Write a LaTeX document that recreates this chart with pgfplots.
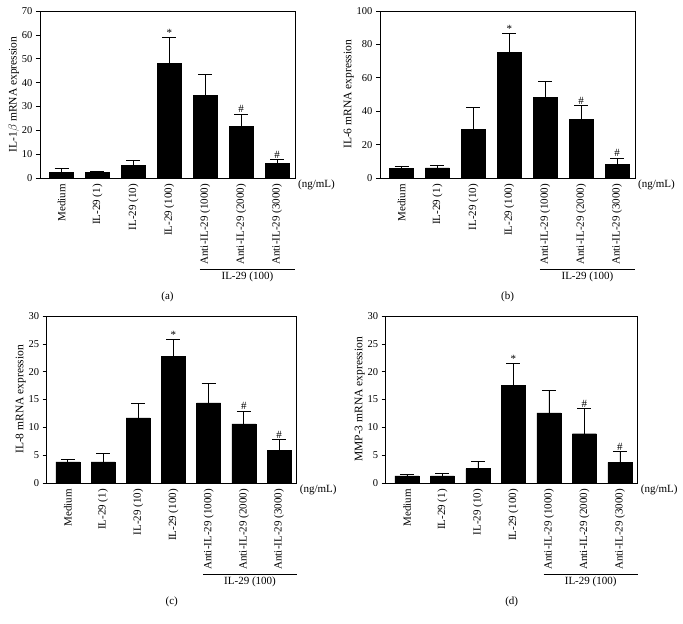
\documentclass[border=0pt]{standalone}
\usepackage{fontspec}
\setmainfont{Liberation Serif}
\usepackage{pgfplots}
\pgfplotsset{compat=1.18}
\newcommand{\lbl}{\fontsize{11bp}{13bp}\selectfont}
\newcommand{\tlbl}{\fontsize{10.5bp}{12bp}\selectfont}
\newcommand{\ylbl}{\fontsize{11.5bp}{13bp}\selectfont}
\pgfplotsset{
  panel/.style={
    scale only axis, width=255bp, height=167bp,
    axis line style={line width=0.7bp},
    ybar, bar width=24bp, xmin=-0.6, xmax=6.5, ymin=0,
    xtick={0,...,6},
    xticklabels={Medium,{IL-29 (1)},{IL-29 (10)},{IL-29 (100)},{Anti-IL-29 (1000)},{Anti-IL-29 (2000)},{Anti-IL-29 (3000)}},
    x tick label style={rotate=90, anchor=east, font=\lbl, inner sep=2bp},
    major x tick style={draw=none},
    ytick pos=left, tick align=outside, major tick length=4bp,
    y tick style={line width=0.6bp, black},
    y tick label style={font=\tlbl},
    ylabel style={font=\ylbl}, ylabel shift=-4bp,
    /pgf/number format/assume math mode=true,
    clip=false,
  },
  barsty/.style={fill=black, draw=black, error bars/.cd, y dir=plus, y explicit,
    error bar style={line width=0.8bp, black},
    error mark options={rotate=90, line width=0.8bp, black, mark size=7bp}},
}
\newcommand{\extras}[1]{%
  \node[font=\lbl, anchor=north west, inner sep=0pt] at ([xshift=3bp,yshift=-2bp]rel axis cs:1,0) {(ng/mL)};
  \draw[line width=0.7bp] ([yshift=-91bp]axis cs:3.85,0) -- ([yshift=-91bp]axis cs:6.5,0)
     node[midway, below, font=\lbl, inner sep=2.5bp] {IL-29 (100)};
  \node[font=\lbl, anchor=center] at ([yshift=-119bp]rel axis cs:0.5,0) {#1};
}
\begin{document}
\begin{tikzpicture}
\useasboundingbox (0,0) rectangle (683bp,624bp);
% (a)
\begin{axis}[panel, at={(40bp,446bp)}, anchor=south west,
  ymax=70, ytick={0,10,...,70}, ylabel={IL-1$\beta$ mRNA expression}]
\addplot[barsty] table[x=x,y=y,y error=e] {
x y e
0 2.5 1.5
1 2.4 0.5
2 5.3 1.9
3 48.0 10.8
4 34.6 8.9
5 21.7 5.1
6 6.1 1.7
};
\node[font=\lbl, anchor=south, inner sep=1bp] at (axis cs:3,58.8) {*};
\node[font=\lbl, anchor=south, inner sep=1bp] at (axis cs:5,26.8) {\#};
\node[font=\lbl, anchor=south, inner sep=1bp] at (axis cs:6,7.8) {\#};
\extras{(a)}
\end{axis}
% (b)
\begin{axis}[panel, at={(380bp,446bp)}, anchor=south west,
  ymax=100, ytick={0,20,...,100}, ylabel={IL-6 mRNA expression}]
\addplot[barsty] table[x=x,y=y,y error=e] {
x y e
0 5.6 1.4
1 6.0 1.8
2 29.2 12.9
3 75.1 11.2
4 48.1 9.8
5 35.2 8.1
6 8.0 3.9
};
\node[font=\lbl, anchor=south, inner sep=1bp] at (axis cs:3,86.3) {*};
\node[font=\lbl, anchor=south, inner sep=1bp] at (axis cs:5,43.3) {\#};
\node[font=\lbl, anchor=south, inner sep=1bp] at (axis cs:6,11.9) {\#};
\extras{(b)}
\end{axis}
% (c)
\begin{axis}[panel, at={(46.7bp,141bp)}, anchor=south west, width=250bp,
  ymax=30, ytick={0,5,...,30}, ylabel={IL-8 mRNA expression}]
\addplot[barsty] table[x=x,y=y,y error=e] {
x y e
0 3.8 0.4
1 3.8 1.5
2 11.7 2.6
3 22.7 3.1
4 14.4 3.5
5 10.6 2.3
6 5.9 1.9
};
\node[font=\lbl, anchor=south, inner sep=1bp] at (axis cs:3,25.8) {*};
\node[font=\lbl, anchor=south, inner sep=1bp] at (axis cs:5,12.9) {\#};
\node[font=\lbl, anchor=south, inner sep=1bp] at (axis cs:6,7.8) {\#};
\extras{(c)}
\end{axis}
% (d)
\begin{axis}[panel, at={(385.7bp,141bp)}, anchor=south west, width=252bp,
  ymax=30, ytick={0,5,...,30}, ylabel={MMP-3 mRNA expression}]
\addplot[barsty] table[x=x,y=y,y error=e] {
x y e
0 1.26 0.3
1 1.26 0.55
2 2.6 1.3
3 17.5 3.9
4 12.6 4.0
5 8.85 4.55
6 3.7 2.0
};
\node[font=\lbl, anchor=south, inner sep=1bp] at (axis cs:3,21.4) {*};
\node[font=\lbl, anchor=south, inner sep=1bp] at (axis cs:5,13.4) {\#};
\node[font=\lbl, anchor=south, inner sep=1bp] at (axis cs:6,5.7) {\#};
\extras{(d)}
\end{axis}
\end{tikzpicture}
\end{document}
